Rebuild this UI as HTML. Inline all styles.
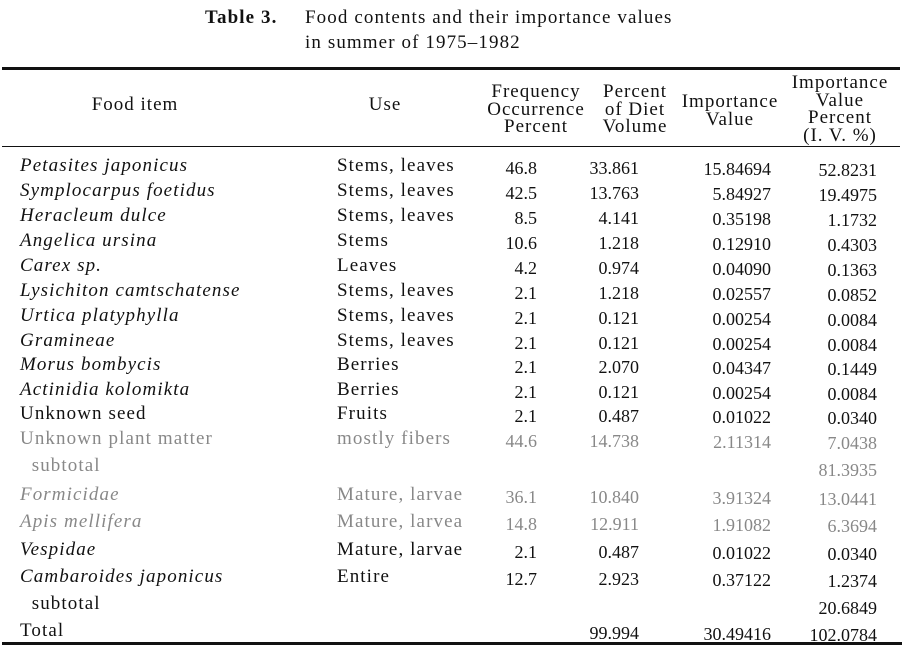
<!DOCTYPE html>
<html><head><meta charset="utf-8"><style>
body{margin:0;width:909px;height:664px;background:#fff;position:relative;overflow:hidden;font-family:"Liberation Serif",serif;color:#111}
.t{position:absolute;line-height:20px;font-size:19px;letter-spacing:1.1px;white-space:nowrap}
.r{text-align:right;font-size:18px;letter-spacing:0}
.i{font-style:italic}
.g{color:#888}
.h{font-size:19px;letter-spacing:1px;line-height:17.5px;position:absolute;text-align:center;white-space:nowrap}
.rule{position:absolute;background:#111}
</style></head><body>
<div class="t" style="left:205px;top:8px;font-weight:bold">Table 3.</div>
<div class="t" style="left:305px;top:8px">Food contents and their importance values</div>
<div class="t" style="left:305px;top:33px">in summer of 1975–1982</div>
<div class="rule" style="left:2px;top:67px;width:898px;height:3px"></div>
<div class="rule" style="left:2px;top:146px;width:898px;height:1px"></div>
<div class="rule" style="left:2px;top:642px;width:900px;height:3px"></div>

<div class="h" style="left:70px;top:96px;width:130px">Food item</div>
<div class="h" style="left:345px;top:96px;width:80px">Use</div>
<div class="h" style="left:466px;top:83px;width:140px">Frequency<br>Occurrence<br>Percent</div>
<div class="h" style="left:585px;top:83px;width:100px">Percent<br>of Diet<br>Volume</div>
<div class="h" style="left:670px;top:93px;width:120px">Importance<br>Value</div>
<div class="h" style="left:775px;top:74px;width:130px">Importance<br>Value<br>Percent<br>(I. V. %)</div>

<div id="rows"></div>
<script>
var rows=[
["Petasites japonicus",1,"Stems, leaves","46.8","33.861","15.84694","52.8231",0],
["Symplocarpus foetidus",1,"Stems, leaves","42.5","13.763","5.84927","19.4975",0],
["Heracleum dulce",1,"Stems, leaves","8.5","4.141","0.35198","1.1732",0],
["Angelica ursina",1,"Stems","10.6","1.218","0.12910","0.4303",0],
["Carex sp.",1,"Leaves","4.2","0.974","0.04090","0.1363",0],
["Lysichiton camtschatense",1,"Stems, leaves","2.1","1.218","0.02557","0.0852",0],
["Urtica platyphylla",1,"Stems, leaves","2.1","0.121","0.00254","0.0084",0],
["Gramineae",1,"Stems, leaves","2.1","0.121","0.00254","0.0084",0],
["Morus bombycis",1,"Berries","2.1","2.070","0.04347","0.1449",0],
["Actinidia kolomikta",1,"Berries","2.1","0.121","0.00254","0.0084",0],
["Unknown seed",0,"Fruits","2.1","0.487","0.01022","0.0340",0],
["Unknown plant matter",0,"mostly fibers","44.6","14.738","2.11314","7.0438",1],
["&nbsp;&nbsp;subtotal",0,"","","","","81.3935",1],
["Formicidae",1,"Mature, larvae","36.1","10.840","3.91324","13.0441",1],
["Apis mellifera",1,"Mature, larvea","14.8","12.911","1.91082","6.3694",1],
["Vespidae",1,"Mature, larvae","2.1","0.487","0.01022","0.0340",0],
["Cambaroides japonicus",1,"Entire","12.7","2.923","0.37122","1.2374",0],
["&nbsp;&nbsp;subtotal",0,"","","","","20.6849",0],
["Total",0,"","","99.994","30.49416","102.0784",0]];
var ys=[166,191,216,241,266,291,316,341,365,390,414,439,466,495,522,550,577,604,631];
var h="";
rows.forEach(function(r,k){var y=ys[k]-10,g=r[7]?" g":"";
h+='<div class="t'+(r[1]?' i':'')+g+'" style="left:20px;top:'+y+'px">'+r[0]+'</div>';
h+='<div class="t'+g+'" style="left:337px;top:'+y+'px">'+r[2]+'</div>';
h+='<div class="t r'+g+'" style="left:436px;width:101px;top:'+(y+2)+'px">'+r[3]+'</div>';
h+='<div class="t r'+g+'" style="left:538px;width:101px;top:'+(y+2)+'px">'+r[4]+'</div>';
h+='<div class="t r'+g+'" style="left:670px;width:101px;top:'+(y+3)+'px">'+r[5]+'</div>';
h+='<div class="t r'+g+'" style="left:776px;width:101px;top:'+(y+4)+'px">'+r[6]+'</div>';});
document.getElementById("rows").innerHTML=h;
</script>
</body></html>
